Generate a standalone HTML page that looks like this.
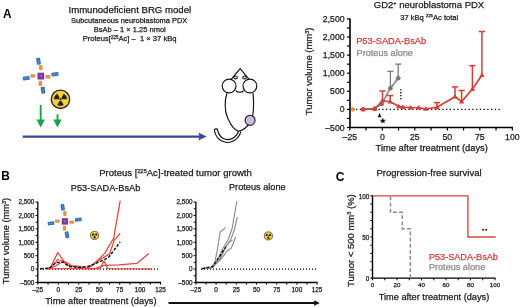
<!DOCTYPE html>
<html><head><meta charset="utf-8"><style>
html,body{margin:0;padding:0;background:#fff;}
body{width:520px;height:307px;overflow:hidden;}
svg{display:block;will-change:transform;}
text{font-family:"Liberation Sans",sans-serif;stroke-width:0.25px;}
</style></head><body>
<svg width="520" height="307" viewBox="0 0 520 307" font-family="Liberation Sans, sans-serif">
<rect width="520" height="307" fill="#fff"/>
<text transform="translate(2.9,17.5) scale(0.93,1)" font-size="12.8" font-weight="bold" fill="#000">A</text>
<text x="129.8" y="12.8" font-size="9.6" text-anchor="middle" fill="#1a1a1a" stroke="#1a1a1a" >Immunodeficient BRG model</text>
<text x="129.2" y="23.2" font-size="7.45" text-anchor="middle" fill="#1a1a1a" stroke="#1a1a1a" >Subcutaneous neuroblastoma PDX</text>
<text x="129.8" y="32.4" font-size="7.5" text-anchor="middle" fill="#1a1a1a" stroke="#1a1a1a" >BsAb – 1 × 1.25 nmol</text>
<text x="129.6" y="41.4" font-size="7.6" text-anchor="middle" fill="#1a1a1a" stroke="#1a1a1a" xml:space="preserve">Proteus[<tspan font-size="4.5" dy="-2.6">225</tspan><tspan dy="2.6">Ac] –  1 × 37 kBq</tspan></text>
<g transform="translate(40.8,76.1) rotate(0) scale(1.0)">
<rect x="-1.75" y="-11.00" width="3.5" height="5.2" rx="1.3" fill="#e5914a" transform="rotate(0 0 -8.4)"/>
<rect x="-10.50" y="-1.90" width="5.2" height="3.4" rx="1.3" fill="#e5914a" transform="rotate(0 -7.9 -0.2)"/>
<rect x="4.40" y="-1.00" width="5.4" height="3.4" rx="1.3" fill="#e5914a" transform="rotate(0 7.1 0.7)"/>
<rect x="-2.25" y="4.70" width="3.5" height="5.2" rx="1.3" fill="#e5914a" transform="rotate(0 -0.5 7.3)"/>
<g transform="rotate(-9 -2.3 -14.8)"><rect x="-4.30" y="-18.20" width="4.0" height="6.8" rx="0.9" fill="#3270b8"/>
<line x1="-2.3" y1="-17.60" x2="-2.3" y2="-12.00" stroke="#7fa6d6" stroke-width="0.55"/></g>
<g transform="rotate(-9 -14.6 2.1)"><rect x="-18.10" y="0.20" width="7.0" height="3.8" rx="0.9" fill="#3270b8"/>
<line x1="-17.50" y1="2.1" x2="-11.70" y2="2.1" stroke="#7fa6d6" stroke-width="0.55"/></g>
<g transform="rotate(-9 14.2 -1.8)"><rect x="10.60" y="-3.70" width="7.2" height="3.8" rx="0.9" fill="#3270b8"/>
<line x1="11.20" y1="-1.8" x2="17.20" y2="-1.8" stroke="#7fa6d6" stroke-width="0.55"/></g>
<g transform="rotate(-9 2.2 14.1)"><rect x="0.20" y="10.60" width="4.0" height="7.0" rx="0.9" fill="#3270b8"/>
<line x1="2.2" y1="11.20" x2="2.2" y2="17.00" stroke="#7fa6d6" stroke-width="0.55"/></g>
<rect x="-3.3" y="-3.4" width="6.6" height="6.8" fill="#74379a"/>
<path d="M-1.4,-1.6 L0.6,0.6 M1.5,-1.5 L-0.7,1.3" stroke="#b58ad0" stroke-width="0.6"/>
</g>
<g transform="translate(60.5,99.3)">
<circle r="9.2" fill="#f2d23c" stroke="#2a2416" stroke-width="1.38"/>
<path d="M-1.84,-0.00 L-6.44,-0.00 A6.4399999999999995,6.4399999999999995 0 0 1 -3.22,-5.58 L-0.92,-1.59 Z" fill="#2a2416"/>
<path d="M0.92,-1.59 L3.22,-5.58 A6.4399999999999995,6.4399999999999995 0 0 1 6.44,0.00 L1.84,0.00 Z" fill="#2a2416"/>
<path d="M0.92,1.59 L3.22,5.58 A6.4399999999999995,6.4399999999999995 0 0 1 -3.22,5.58 L-0.92,1.59 Z" fill="#2a2416"/>
<circle r="1.10" fill="#2a2416"/>
</g>
<line x1="40.7" y1="105" x2="40.7" y2="120.4" stroke="#20a04a" stroke-width="1.9"/>
<path d="M36.5,119.4 L44.900000000000006,119.4 L40.7,127.4 Z" fill="#20a04a"/>
<line x1="57.5" y1="114.3" x2="57.5" y2="120.4" stroke="#20a04a" stroke-width="1.9"/>
<path d="M53.3,119.4 L61.7,119.4 L57.5,127.4 Z" fill="#20a04a"/>
<line x1="22.8" y1="136.6" x2="200" y2="136.6" stroke="#34459a" stroke-width="2.4"/>
<path d="M198.3,132.6 L206.6,136.6 L198.3,140.6 L199.6,136.6 Z" fill="#34459a"/>
<g fill="none" stroke="#111" stroke-width="1.15">
<path d="M240.8,131.6 C238.5,140 230.5,143.2 225.5,142.3 C219.5,141.3 214.8,136 214.4,130 C214.3,128.7 217.4,128.5 217.6,129.9 C218.2,135.6 222.5,139.3 227.2,139.6 C232,139.9 236.8,136.5 238.6,131.3" fill="#fff"/>
<path d="M226.9,93.2 C224.6,100 224.3,111 227.7,118.1 C230.5,124.5 234.5,130.2 238.2,131.1 C242.5,131.2 248.5,126.5 251.5,120 C253.6,114 253.9,103 253.1,93.2" fill="#fff"/>
<circle cx="250.1" cy="120.3" r="5.0" fill="#c9bbdd" stroke="#2a2a2a"/>
<path d="M231.3,79.2 L240.1,68.6 L248.9,79.2" fill="#fff"/>
<circle cx="229.1" cy="86.0" r="6.9" fill="#fff"/>
<circle cx="249.9" cy="86.0" r="6.9" fill="#fff"/>
<path d="M235.6,90.6 C237.5,92.8 242,92.8 243.6,90.6"/>
<ellipse cx="235.6" cy="77.4" rx="1.75" ry="1.45" stroke-width="1.05"/>
<ellipse cx="244.5" cy="77.4" rx="1.75" ry="1.45" stroke-width="1.05"/>
</g>
<text x="429" y="8.2" font-size="9.5" text-anchor="middle" fill="#1a1a1a" stroke="#1a1a1a" >GD2<tspan font-size="5.5" dy="-3.3">+</tspan><tspan dy="3.3"> neuroblastoma PDX</tspan></text>
<text x="429.2" y="19.6" font-size="7.5" text-anchor="middle" fill="#1a1a1a" stroke="#1a1a1a" >37 kBq <tspan font-size="4.4" dy="-2.7">225</tspan><tspan dy="2.7">Ac total</tspan></text>
<line x1="350.00" y1="18.40" x2="350.00" y2="128.10" stroke="#000" stroke-width="1.6" />
<line x1="349.25" y1="127.50" x2="512.90" y2="127.50" stroke="#000" stroke-width="1.6" />
<line x1="347.00" y1="127.50" x2="350.00" y2="127.50" stroke="#000" stroke-width="1.2" />
<line x1="347.00" y1="118.45" x2="350.00" y2="118.45" stroke="#000" stroke-width="1.2" />
<line x1="347.00" y1="109.40" x2="350.00" y2="109.40" stroke="#000" stroke-width="1.2" />
<line x1="347.00" y1="100.35" x2="350.00" y2="100.35" stroke="#000" stroke-width="1.2" />
<line x1="347.00" y1="91.30" x2="350.00" y2="91.30" stroke="#000" stroke-width="1.2" />
<line x1="347.00" y1="82.25" x2="350.00" y2="82.25" stroke="#000" stroke-width="1.2" />
<line x1="347.00" y1="73.20" x2="350.00" y2="73.20" stroke="#000" stroke-width="1.2" />
<line x1="347.00" y1="64.15" x2="350.00" y2="64.15" stroke="#000" stroke-width="1.2" />
<line x1="347.00" y1="55.10" x2="350.00" y2="55.10" stroke="#000" stroke-width="1.2" />
<line x1="347.00" y1="46.05" x2="350.00" y2="46.05" stroke="#000" stroke-width="1.2" />
<line x1="347.00" y1="37.00" x2="350.00" y2="37.00" stroke="#000" stroke-width="1.2" />
<line x1="347.00" y1="27.95" x2="350.00" y2="27.95" stroke="#000" stroke-width="1.2" />
<line x1="347.00" y1="18.90" x2="350.00" y2="18.90" stroke="#000" stroke-width="1.2" />
<text x="344.6" y="21.89999999999999" font-size="8.7" text-anchor="end" fill="#1a1a1a" stroke="#1a1a1a" >2,500</text>
<text x="344.6" y="40.0" font-size="8.7" text-anchor="end" fill="#1a1a1a" stroke="#1a1a1a" >2,000</text>
<text x="344.6" y="58.1" font-size="8.7" text-anchor="end" fill="#1a1a1a" stroke="#1a1a1a" >1,500</text>
<text x="344.6" y="76.2" font-size="8.7" text-anchor="end" fill="#1a1a1a" stroke="#1a1a1a" >1,000</text>
<text x="344.6" y="94.30000000000001" font-size="8.7" text-anchor="end" fill="#1a1a1a" stroke="#1a1a1a" >500</text>
<text x="344.6" y="112.4" font-size="8.7" text-anchor="end" fill="#1a1a1a" stroke="#1a1a1a" >0</text>
<text x="344.6" y="130.5" font-size="8.7" text-anchor="end" fill="#1a1a1a" stroke="#1a1a1a" >–500</text>
<line x1="349.80" y1="127.50" x2="349.80" y2="130.50" stroke="#000" stroke-width="1.2" />
<line x1="366.05" y1="127.50" x2="366.05" y2="130.50" stroke="#000" stroke-width="1.2" />
<line x1="382.30" y1="127.50" x2="382.30" y2="130.50" stroke="#000" stroke-width="1.2" />
<line x1="398.55" y1="127.50" x2="398.55" y2="130.50" stroke="#000" stroke-width="1.2" />
<line x1="414.80" y1="127.50" x2="414.80" y2="130.50" stroke="#000" stroke-width="1.2" />
<line x1="431.05" y1="127.50" x2="431.05" y2="130.50" stroke="#000" stroke-width="1.2" />
<line x1="447.30" y1="127.50" x2="447.30" y2="130.50" stroke="#000" stroke-width="1.2" />
<line x1="463.55" y1="127.50" x2="463.55" y2="130.50" stroke="#000" stroke-width="1.2" />
<line x1="479.80" y1="127.50" x2="479.80" y2="130.50" stroke="#000" stroke-width="1.2" />
<line x1="496.05" y1="127.50" x2="496.05" y2="130.50" stroke="#000" stroke-width="1.2" />
<line x1="512.30" y1="127.50" x2="512.30" y2="130.50" stroke="#000" stroke-width="1.2" />
<text x="349.8" y="140.4" font-size="8.7" text-anchor="middle" fill="#1a1a1a" stroke="#1a1a1a" >–25</text>
<text x="382.3" y="140.4" font-size="8.7" text-anchor="middle" fill="#1a1a1a" stroke="#1a1a1a" >0</text>
<text x="414.8" y="140.4" font-size="8.7" text-anchor="middle" fill="#1a1a1a" stroke="#1a1a1a" >25</text>
<text x="447.3" y="140.4" font-size="8.7" text-anchor="middle" fill="#1a1a1a" stroke="#1a1a1a" >50</text>
<text x="479.8" y="140.4" font-size="8.7" text-anchor="middle" fill="#1a1a1a" stroke="#1a1a1a" >75</text>
<text x="512.3" y="140.4" font-size="8.7" text-anchor="middle" fill="#1a1a1a" stroke="#1a1a1a" >100</text>
<text x="431.7" y="151.2" font-size="9.35" text-anchor="middle" fill="#1a1a1a" stroke="#1a1a1a" >Time after treatment (days)</text>
<text transform="translate(312.0,71.4) rotate(-90)" font-size="9.45" text-anchor="middle" fill="#1a1a1a" stroke="#1a1a1a">Tumor volume (mm<tspan font-size="5.5" dy="-3.2">3</tspan><tspan dy="3.2">)</tspan></text>
<line x1="356" y1="109.40" x2="500" y2="109.40" stroke="#000" stroke-width="1.3" stroke-dasharray="1.3 2.45"/>
<text x="356.2" y="44.3" font-size="9.25" text-anchor="start" fill="#d03e3c" stroke="#d03e3c" >P53-SADA-BsAb</text>
<text x="356.6" y="55.5" font-size="9.15" text-anchor="start" fill="#8a8a8a" stroke="#8a8a8a" >Proteus alone</text>
<line x1="400.8" y1="89.2" x2="400.8" y2="100" stroke="#000" stroke-width="1.3" stroke-dasharray="1.3 1.6"/>
<circle cx="352.8" cy="109.4" r="2.2" fill="#f08a30"/>
<polyline points="363.20,109.20 374.80,108.60 381.70,104.00 390.40,88.20 398.20,78.20" fill="none" stroke="#7a7a7a" stroke-width="1.45" stroke-linejoin="round" />
<line x1="390.40" y1="88.20" x2="390.40" y2="71.30" stroke="#7a7a7a" stroke-width="1.3" />
<line x1="387.30" y1="71.30" x2="393.50" y2="71.30" stroke="#7a7a7a" stroke-width="1.3" />
<line x1="398.20" y1="78.20" x2="398.20" y2="64.10" stroke="#7a7a7a" stroke-width="1.3" />
<line x1="395.10" y1="64.10" x2="401.30" y2="64.10" stroke="#7a7a7a" stroke-width="1.3" />
<circle cx="363.2" cy="109.2" r="2.3" fill="#6f7a74"/>
<circle cx="374.8" cy="108.6" r="2.3" fill="#6f7a74"/>
<circle cx="381.7" cy="104.0" r="2.3" fill="#6f7a74"/>
<circle cx="390.4" cy="88.2" r="2.3" fill="#6f7a74"/>
<circle cx="398.2" cy="78.2" r="2.3" fill="#6f7a74"/>
<polyline points="363.20,109.40 374.80,108.80 382.50,100.50 390.20,101.70 398.70,106.30 402.80,107.00 410.60,107.50 418.50,107.70 425.90,108.80 437.00,107.30 455.00,96.70 461.60,101.60 472.40,89.00 481.90,75.20" fill="none" stroke="#dc3b32" stroke-width="1.65" stroke-linejoin="round" />
<line x1="382.50" y1="100.50" x2="382.50" y2="91.00" stroke="#dc3b32" stroke-width="1.5" />
<line x1="379.40" y1="91.00" x2="385.60" y2="91.00" stroke="#dc3b32" stroke-width="1.5" />
<line x1="390.20" y1="101.70" x2="390.20" y2="95.60" stroke="#dc3b32" stroke-width="1.5" />
<line x1="387.10" y1="95.60" x2="393.30" y2="95.60" stroke="#dc3b32" stroke-width="1.5" />
<line x1="437.00" y1="107.30" x2="437.00" y2="102.60" stroke="#dc3b32" stroke-width="1.5" />
<line x1="433.90" y1="102.60" x2="440.10" y2="102.60" stroke="#dc3b32" stroke-width="1.5" />
<line x1="455.00" y1="96.70" x2="455.00" y2="86.90" stroke="#dc3b32" stroke-width="1.5" />
<line x1="451.90" y1="86.90" x2="458.10" y2="86.90" stroke="#dc3b32" stroke-width="1.5" />
<line x1="461.60" y1="101.60" x2="461.60" y2="90.50" stroke="#dc3b32" stroke-width="1.5" />
<line x1="458.50" y1="90.50" x2="464.70" y2="90.50" stroke="#dc3b32" stroke-width="1.5" />
<line x1="472.40" y1="89.00" x2="472.40" y2="65.70" stroke="#dc3b32" stroke-width="1.5" />
<line x1="469.30" y1="65.70" x2="475.50" y2="65.70" stroke="#dc3b32" stroke-width="1.5" />
<line x1="481.90" y1="75.20" x2="481.90" y2="31.50" stroke="#dc3b32" stroke-width="1.5" />
<line x1="478.80" y1="31.50" x2="485.00" y2="31.50" stroke="#dc3b32" stroke-width="1.5" />
<path d="M360.50,111.30 L365.90,111.30 L363.20,106.80 Z" fill="#dc3b32"/>
<path d="M372.10,110.70 L377.50,110.70 L374.80,106.20 Z" fill="#dc3b32"/>
<path d="M379.80,102.40 L385.20,102.40 L382.50,97.90 Z" fill="#dc3b32"/>
<path d="M387.50,103.60 L392.90,103.60 L390.20,99.10 Z" fill="#dc3b32"/>
<path d="M396.00,108.20 L401.40,108.20 L398.70,103.70 Z" fill="#dc3b32"/>
<path d="M400.10,108.90 L405.50,108.90 L402.80,104.40 Z" fill="#dc3b32"/>
<path d="M407.90,109.40 L413.30,109.40 L410.60,104.90 Z" fill="#dc3b32"/>
<path d="M415.80,109.60 L421.20,109.60 L418.50,105.10 Z" fill="#dc3b32"/>
<path d="M423.20,110.70 L428.60,110.70 L425.90,106.20 Z" fill="#dc3b32"/>
<path d="M434.30,109.20 L439.70,109.20 L437.00,104.70 Z" fill="#dc3b32"/>
<path d="M452.30,98.60 L457.70,98.60 L455.00,94.10 Z" fill="#dc3b32"/>
<path d="M458.90,103.50 L464.30,103.50 L461.60,99.00 Z" fill="#dc3b32"/>
<path d="M469.70,90.90 L475.10,90.90 L472.40,86.40 Z" fill="#dc3b32"/>
<path d="M479.20,77.10 L484.60,77.10 L481.90,72.60 Z" fill="#dc3b32"/>
<path d="M377.7,117.2 L381.4,117.2 L379.6,112.7 Z" fill="#111"/>
<path d="M382.85,118.2 L383.55,120.0 L385.5,120.1 L384.0,121.3 L384.5,123.1 L382.85,122.1 L381.2,123.1 L381.7,121.3 L380.2,120.1 L382.15,120.0 Z" fill="#111" stroke="#111" stroke-width="0.4"/>
<text transform="translate(1.3,180.0) scale(0.93,1)" font-size="12.8" font-weight="bold" fill="#000">B</text>
<text x="175.5" y="176.1" font-size="9.55" text-anchor="middle" fill="#1a1a1a" stroke="#1a1a1a" >Proteus [<tspan font-size="5.6" dy="-3.3">225</tspan><tspan dy="3.3">Ac]-treated tumor growth</tspan></text>
<text x="105.6" y="191.0" font-size="9.2" text-anchor="middle" fill="#1a1a1a" stroke="#1a1a1a" >P53-SADA-BsAb</text>
<text x="257.3" y="190.4" font-size="9.2" text-anchor="middle" fill="#1a1a1a" stroke="#1a1a1a" >Proteus alone</text>
<line x1="37.80" y1="201.70" x2="37.80" y2="283.00" stroke="#000" stroke-width="1.3" />
<line x1="37.20" y1="282.50" x2="161.07" y2="282.50" stroke="#000" stroke-width="1.3" />
<line x1="35.60" y1="282.50" x2="37.80" y2="282.50" stroke="#000" stroke-width="1.0" />
<line x1="35.60" y1="275.80" x2="37.80" y2="275.80" stroke="#000" stroke-width="1.0" />
<line x1="35.60" y1="269.10" x2="37.80" y2="269.10" stroke="#000" stroke-width="1.0" />
<line x1="35.60" y1="262.40" x2="37.80" y2="262.40" stroke="#000" stroke-width="1.0" />
<line x1="35.60" y1="255.70" x2="37.80" y2="255.70" stroke="#000" stroke-width="1.0" />
<line x1="35.60" y1="249.00" x2="37.80" y2="249.00" stroke="#000" stroke-width="1.0" />
<line x1="35.60" y1="242.30" x2="37.80" y2="242.30" stroke="#000" stroke-width="1.0" />
<line x1="35.60" y1="235.60" x2="37.80" y2="235.60" stroke="#000" stroke-width="1.0" />
<line x1="35.60" y1="228.90" x2="37.80" y2="228.90" stroke="#000" stroke-width="1.0" />
<line x1="35.60" y1="222.20" x2="37.80" y2="222.20" stroke="#000" stroke-width="1.0" />
<line x1="35.60" y1="215.50" x2="37.80" y2="215.50" stroke="#000" stroke-width="1.0" />
<line x1="35.60" y1="208.80" x2="37.80" y2="208.80" stroke="#000" stroke-width="1.0" />
<line x1="35.60" y1="202.10" x2="37.80" y2="202.10" stroke="#000" stroke-width="1.0" />
<text x="34.4" y="204.40000000000003" font-size="6.4" text-anchor="end" fill="#1a1a1a" stroke="#1a1a1a" >2,500</text>
<text x="34.4" y="217.80000000000004" font-size="6.4" text-anchor="end" fill="#1a1a1a" stroke="#1a1a1a" >2,000</text>
<text x="34.4" y="231.20000000000005" font-size="6.4" text-anchor="end" fill="#1a1a1a" stroke="#1a1a1a" >1,500</text>
<text x="34.4" y="244.60000000000002" font-size="6.4" text-anchor="end" fill="#1a1a1a" stroke="#1a1a1a" >1,000</text>
<text x="34.4" y="258.0" font-size="6.4" text-anchor="end" fill="#1a1a1a" stroke="#1a1a1a" >500</text>
<text x="34.4" y="271.40000000000003" font-size="6.4" text-anchor="end" fill="#1a1a1a" stroke="#1a1a1a" >0</text>
<text x="34.4" y="284.8" font-size="6.4" text-anchor="end" fill="#1a1a1a" stroke="#1a1a1a" >–500</text>
<line x1="37.80" y1="282.50" x2="37.80" y2="284.70" stroke="#000" stroke-width="1.0" />
<line x1="48.03" y1="282.50" x2="48.03" y2="284.70" stroke="#000" stroke-width="1.0" />
<line x1="58.26" y1="282.50" x2="58.26" y2="284.70" stroke="#000" stroke-width="1.0" />
<line x1="68.49" y1="282.50" x2="68.49" y2="284.70" stroke="#000" stroke-width="1.0" />
<line x1="78.72" y1="282.50" x2="78.72" y2="284.70" stroke="#000" stroke-width="1.0" />
<line x1="88.96" y1="282.50" x2="88.96" y2="284.70" stroke="#000" stroke-width="1.0" />
<line x1="99.19" y1="282.50" x2="99.19" y2="284.70" stroke="#000" stroke-width="1.0" />
<line x1="109.42" y1="282.50" x2="109.42" y2="284.70" stroke="#000" stroke-width="1.0" />
<line x1="119.65" y1="282.50" x2="119.65" y2="284.70" stroke="#000" stroke-width="1.0" />
<line x1="129.88" y1="282.50" x2="129.88" y2="284.70" stroke="#000" stroke-width="1.0" />
<line x1="140.11" y1="282.50" x2="140.11" y2="284.70" stroke="#000" stroke-width="1.0" />
<line x1="150.34" y1="282.50" x2="150.34" y2="284.70" stroke="#000" stroke-width="1.0" />
<line x1="160.57" y1="282.50" x2="160.57" y2="284.70" stroke="#000" stroke-width="1.0" />
<text x="37.8" y="291.6" font-size="6.4" text-anchor="middle" fill="#1a1a1a" stroke="#1a1a1a" >–25</text>
<text x="58.262499999999996" y="291.6" font-size="6.4" text-anchor="middle" fill="#1a1a1a" stroke="#1a1a1a" >0</text>
<text x="78.725" y="291.6" font-size="6.4" text-anchor="middle" fill="#1a1a1a" stroke="#1a1a1a" >25</text>
<text x="99.1875" y="291.6" font-size="6.4" text-anchor="middle" fill="#1a1a1a" stroke="#1a1a1a" >50</text>
<text x="119.64999999999999" y="291.6" font-size="6.4" text-anchor="middle" fill="#1a1a1a" stroke="#1a1a1a" >75</text>
<text x="140.1125" y="291.6" font-size="6.4" text-anchor="middle" fill="#1a1a1a" stroke="#1a1a1a" >100</text>
<text x="160.575" y="291.6" font-size="6.4" text-anchor="middle" fill="#1a1a1a" stroke="#1a1a1a" >125</text>
<line x1="195.90" y1="201.70" x2="195.90" y2="283.00" stroke="#000" stroke-width="1.3" />
<line x1="195.30" y1="282.50" x2="317.60" y2="282.50" stroke="#000" stroke-width="1.3" />
<line x1="193.70" y1="282.50" x2="195.90" y2="282.50" stroke="#000" stroke-width="1.0" />
<line x1="193.70" y1="275.80" x2="195.90" y2="275.80" stroke="#000" stroke-width="1.0" />
<line x1="193.70" y1="269.10" x2="195.90" y2="269.10" stroke="#000" stroke-width="1.0" />
<line x1="193.70" y1="262.40" x2="195.90" y2="262.40" stroke="#000" stroke-width="1.0" />
<line x1="193.70" y1="255.70" x2="195.90" y2="255.70" stroke="#000" stroke-width="1.0" />
<line x1="193.70" y1="249.00" x2="195.90" y2="249.00" stroke="#000" stroke-width="1.0" />
<line x1="193.70" y1="242.30" x2="195.90" y2="242.30" stroke="#000" stroke-width="1.0" />
<line x1="193.70" y1="235.60" x2="195.90" y2="235.60" stroke="#000" stroke-width="1.0" />
<line x1="193.70" y1="228.90" x2="195.90" y2="228.90" stroke="#000" stroke-width="1.0" />
<line x1="193.70" y1="222.20" x2="195.90" y2="222.20" stroke="#000" stroke-width="1.0" />
<line x1="193.70" y1="215.50" x2="195.90" y2="215.50" stroke="#000" stroke-width="1.0" />
<line x1="193.70" y1="208.80" x2="195.90" y2="208.80" stroke="#000" stroke-width="1.0" />
<line x1="193.70" y1="202.10" x2="195.90" y2="202.10" stroke="#000" stroke-width="1.0" />
<text x="192.5" y="204.40000000000003" font-size="6.4" text-anchor="end" fill="#1a1a1a" stroke="#1a1a1a" >2,500</text>
<text x="192.5" y="217.80000000000004" font-size="6.4" text-anchor="end" fill="#1a1a1a" stroke="#1a1a1a" >2,000</text>
<text x="192.5" y="231.20000000000005" font-size="6.4" text-anchor="end" fill="#1a1a1a" stroke="#1a1a1a" >1,500</text>
<text x="192.5" y="244.60000000000002" font-size="6.4" text-anchor="end" fill="#1a1a1a" stroke="#1a1a1a" >1,000</text>
<text x="192.5" y="258.0" font-size="6.4" text-anchor="end" fill="#1a1a1a" stroke="#1a1a1a" >500</text>
<text x="192.5" y="271.40000000000003" font-size="6.4" text-anchor="end" fill="#1a1a1a" stroke="#1a1a1a" >0</text>
<text x="192.5" y="284.8" font-size="6.4" text-anchor="end" fill="#1a1a1a" stroke="#1a1a1a" >–500</text>
<line x1="195.90" y1="282.50" x2="195.90" y2="284.70" stroke="#000" stroke-width="1.0" />
<line x1="206.00" y1="282.50" x2="206.00" y2="284.70" stroke="#000" stroke-width="1.0" />
<line x1="216.10" y1="282.50" x2="216.10" y2="284.70" stroke="#000" stroke-width="1.0" />
<line x1="226.20" y1="282.50" x2="226.20" y2="284.70" stroke="#000" stroke-width="1.0" />
<line x1="236.30" y1="282.50" x2="236.30" y2="284.70" stroke="#000" stroke-width="1.0" />
<line x1="246.40" y1="282.50" x2="246.40" y2="284.70" stroke="#000" stroke-width="1.0" />
<line x1="256.50" y1="282.50" x2="256.50" y2="284.70" stroke="#000" stroke-width="1.0" />
<line x1="266.60" y1="282.50" x2="266.60" y2="284.70" stroke="#000" stroke-width="1.0" />
<line x1="276.70" y1="282.50" x2="276.70" y2="284.70" stroke="#000" stroke-width="1.0" />
<line x1="286.80" y1="282.50" x2="286.80" y2="284.70" stroke="#000" stroke-width="1.0" />
<line x1="296.90" y1="282.50" x2="296.90" y2="284.70" stroke="#000" stroke-width="1.0" />
<line x1="307.00" y1="282.50" x2="307.00" y2="284.70" stroke="#000" stroke-width="1.0" />
<line x1="317.10" y1="282.50" x2="317.10" y2="284.70" stroke="#000" stroke-width="1.0" />
<text x="195.9" y="291.6" font-size="6.4" text-anchor="middle" fill="#1a1a1a" stroke="#1a1a1a" >–25</text>
<text x="216.10000000000002" y="291.6" font-size="6.4" text-anchor="middle" fill="#1a1a1a" stroke="#1a1a1a" >0</text>
<text x="236.3" y="291.6" font-size="6.4" text-anchor="middle" fill="#1a1a1a" stroke="#1a1a1a" >25</text>
<text x="256.5" y="291.6" font-size="6.4" text-anchor="middle" fill="#1a1a1a" stroke="#1a1a1a" >50</text>
<text x="276.70000000000005" y="291.6" font-size="6.4" text-anchor="middle" fill="#1a1a1a" stroke="#1a1a1a" >75</text>
<text x="296.9" y="291.6" font-size="6.4" text-anchor="middle" fill="#1a1a1a" stroke="#1a1a1a" >100</text>
<text x="317.1" y="291.6" font-size="6.4" text-anchor="middle" fill="#1a1a1a" stroke="#1a1a1a" >125</text>
<text transform="translate(9.4,241.0) rotate(-90)" font-size="9.3" text-anchor="middle" fill="#1a1a1a" stroke="#1a1a1a">Tumor volume (mm<tspan font-size="5.5" dy="-3.2">3</tspan><tspan dy="3.2">)</tspan></text>
<text x="100.9" y="304.0" font-size="9.25" text-anchor="middle" fill="#1a1a1a" stroke="#1a1a1a" >Time after treatment (days)</text>
<line x1="168.5" y1="303" x2="316" y2="303" stroke="#111" stroke-width="1.8"/>
<path d="M314.2,300.3 L319.8,303 L314.2,305.7 Z" fill="#111"/>
<line x1="40" y1="269.1" x2="158" y2="269.1" stroke="#000" stroke-width="1.1" stroke-dasharray="1.1 1.9"/>
<line x1="201" y1="269.1" x2="317" y2="269.1" stroke="#000" stroke-width="1.1" stroke-dasharray="1.1 1.9"/>
<polyline points="46.00,268.80 50.00,268.50 57.80,252.50 66.30,264.60 72.00,266.50 80.00,267.00 87.00,268.50 96.00,262.00 104.50,253.60 113.70,238.00 120.20,200.70" fill="none" stroke="#e0463c" stroke-width="1.25" stroke-linejoin="round" />
<polyline points="46.00,268.80 52.00,267.00 57.50,259.50 63.00,261.00 68.00,265.50 78.00,266.00 88.00,268.20 98.00,261.00 109.80,253.60 114.20,240.00 120.20,233.60" fill="none" stroke="#e0463c" stroke-width="1.25" stroke-linejoin="round" />
<polyline points="46.00,268.80 55.00,266.50 60.00,263.00 66.00,262.00 72.00,266.00 85.00,268.50 95.00,268.50 104.50,265.40 118.90,264.80 137.10,263.30 148.80,253.60" fill="none" stroke="#e0463c" stroke-width="1.25" stroke-linejoin="round" />
<polyline points="46.00,268.90 70.00,268.50 100.00,268.70 104.00,261.00 108.00,268.70 152.20,268.90" fill="none" stroke="#e0463c" stroke-width="1.25" stroke-linejoin="round" />
<polyline points="40.30,268.80 49.50,268.00 56.00,262.50 63.00,262.00 69.00,266.50 80.00,267.50 90.00,266.00 103.20,260.10 108.50,257.50 120.20,241.90" fill="none" stroke="#111" stroke-width="1.4" stroke-linejoin="round" stroke-dasharray="3 1.6"/>
<polyline points="202.60,268.60 211.00,268.00 214.80,262.60 217.40,249.50 220.20,232.00 225.60,227.60" fill="none" stroke="#8d8d8d" stroke-width="1.15" stroke-linejoin="round" />
<polyline points="202.60,268.60 211.00,268.00 218.00,259.00 223.00,248.00 228.00,240.00 232.00,229.00 236.90,201.00" fill="none" stroke="#8d8d8d" stroke-width="1.15" stroke-linejoin="round" />
<polyline points="202.60,268.60 211.00,268.00 219.00,260.00 225.00,248.00 231.00,239.00 234.00,231.00 237.40,217.00" fill="none" stroke="#8d8d8d" stroke-width="1.15" stroke-linejoin="round" />
<polyline points="202.60,268.60 212.00,267.50 222.00,258.00 227.00,251.00 231.00,248.50 233.50,243.00 235.50,237.00" fill="none" stroke="#8d8d8d" stroke-width="1.15" stroke-linejoin="round" />
<polyline points="202.60,268.60 212.00,267.50 220.00,259.50 226.00,246.50 229.00,242.50 232.50,240.00" fill="none" stroke="#8d8d8d" stroke-width="1.15" stroke-linejoin="round" />
<polyline points="202.00,268.60 212.80,266.50 218.00,258.70 225.80,246.90" fill="none" stroke="#111" stroke-width="1.4" stroke-linejoin="round" stroke-dasharray="3 1.6"/>
<g transform="translate(64.9,221.4) rotate(0) scale(0.95)">
<rect x="-1.75" y="-11.00" width="3.5" height="5.2" rx="1.3" fill="#e5914a" transform="rotate(0 0 -8.4)"/>
<rect x="-10.50" y="-1.90" width="5.2" height="3.4" rx="1.3" fill="#e5914a" transform="rotate(0 -7.9 -0.2)"/>
<rect x="4.40" y="-1.00" width="5.4" height="3.4" rx="1.3" fill="#e5914a" transform="rotate(0 7.1 0.7)"/>
<rect x="-2.25" y="4.70" width="3.5" height="5.2" rx="1.3" fill="#e5914a" transform="rotate(0 -0.5 7.3)"/>
<g transform="rotate(-9 -2.3 -14.8)"><rect x="-4.30" y="-18.20" width="4.0" height="6.8" rx="0.9" fill="#3270b8"/>
<line x1="-2.3" y1="-17.60" x2="-2.3" y2="-12.00" stroke="#7fa6d6" stroke-width="0.55"/></g>
<g transform="rotate(-9 -14.6 2.1)"><rect x="-18.10" y="0.20" width="7.0" height="3.8" rx="0.9" fill="#3270b8"/>
<line x1="-17.50" y1="2.1" x2="-11.70" y2="2.1" stroke="#7fa6d6" stroke-width="0.55"/></g>
<g transform="rotate(-9 14.2 -1.8)"><rect x="10.60" y="-3.70" width="7.2" height="3.8" rx="0.9" fill="#3270b8"/>
<line x1="11.20" y1="-1.8" x2="17.20" y2="-1.8" stroke="#7fa6d6" stroke-width="0.55"/></g>
<g transform="rotate(-9 2.2 14.1)"><rect x="0.20" y="10.60" width="4.0" height="7.0" rx="0.9" fill="#3270b8"/>
<line x1="2.2" y1="11.20" x2="2.2" y2="17.00" stroke="#7fa6d6" stroke-width="0.55"/></g>
<rect x="-3.3" y="-3.4" width="6.6" height="6.8" fill="#74379a"/>
<path d="M-1.4,-1.6 L0.6,0.6 M1.5,-1.5 L-0.7,1.3" stroke="#b58ad0" stroke-width="0.6"/>
</g>
<g transform="translate(94.6,235.4)">
<circle r="4.1" fill="#f2d23c" stroke="#2a2416" stroke-width="0.61"/>
<path d="M-0.82,-0.00 L-2.87,-0.00 A2.8699999999999997,2.8699999999999997 0 0 1 -1.43,-2.49 L-0.41,-0.71 Z" fill="#2a2416"/>
<path d="M0.41,-0.71 L1.44,-2.49 A2.8699999999999997,2.8699999999999997 0 0 1 2.87,0.00 L0.82,0.00 Z" fill="#2a2416"/>
<path d="M0.41,0.71 L1.44,2.49 A2.8699999999999997,2.8699999999999997 0 0 1 -1.43,2.49 L-0.41,0.71 Z" fill="#2a2416"/>
<circle r="0.49" fill="#2a2416"/>
</g>
<g transform="translate(268.4,235.9)">
<circle r="4.1" fill="#f2d23c" stroke="#2a2416" stroke-width="0.61"/>
<path d="M-0.82,-0.00 L-2.87,-0.00 A2.8699999999999997,2.8699999999999997 0 0 1 -1.43,-2.49 L-0.41,-0.71 Z" fill="#2a2416"/>
<path d="M0.41,-0.71 L1.44,-2.49 A2.8699999999999997,2.8699999999999997 0 0 1 2.87,0.00 L0.82,0.00 Z" fill="#2a2416"/>
<path d="M0.41,0.71 L1.44,2.49 A2.8699999999999997,2.8699999999999997 0 0 1 -1.43,2.49 L-0.41,0.71 Z" fill="#2a2416"/>
<circle r="0.49" fill="#2a2416"/>
</g>
<text transform="translate(335.8,180.6) scale(0.95,1)" font-size="12.8" font-weight="bold" fill="#000">C</text>
<text x="429" y="176.1" font-size="9.5" text-anchor="middle" fill="#1a1a1a" stroke="#1a1a1a" >Progression-free survival</text>
<line x1="372.50" y1="195.36" x2="372.50" y2="278.60" stroke="#000" stroke-width="1.4" />
<line x1="371.80" y1="278.10" x2="495.60" y2="278.10" stroke="#000" stroke-width="1.4" />
<line x1="370.30" y1="278.10" x2="372.50" y2="278.10" stroke="#000" stroke-width="1.0" />
<line x1="370.30" y1="269.88" x2="372.50" y2="269.88" stroke="#000" stroke-width="1.0" />
<line x1="370.30" y1="261.65" x2="372.50" y2="261.65" stroke="#000" stroke-width="1.0" />
<line x1="370.30" y1="253.43" x2="372.50" y2="253.43" stroke="#000" stroke-width="1.0" />
<line x1="370.30" y1="245.20" x2="372.50" y2="245.20" stroke="#000" stroke-width="1.0" />
<line x1="370.30" y1="236.98" x2="372.50" y2="236.98" stroke="#000" stroke-width="1.0" />
<line x1="370.30" y1="228.76" x2="372.50" y2="228.76" stroke="#000" stroke-width="1.0" />
<line x1="370.30" y1="220.53" x2="372.50" y2="220.53" stroke="#000" stroke-width="1.0" />
<line x1="370.30" y1="212.31" x2="372.50" y2="212.31" stroke="#000" stroke-width="1.0" />
<line x1="370.30" y1="204.08" x2="372.50" y2="204.08" stroke="#000" stroke-width="1.0" />
<line x1="370.30" y1="195.86" x2="372.50" y2="195.86" stroke="#000" stroke-width="1.0" />
<text x="369.3" y="281.0" font-size="6.4" text-anchor="end" fill="#1a1a1a" stroke="#1a1a1a" >0</text>
<text x="369.3" y="239.88000000000002" font-size="6.4" text-anchor="end" fill="#1a1a1a" stroke="#1a1a1a" >50</text>
<text x="369.3" y="198.76000000000002" font-size="6.4" text-anchor="end" fill="#1a1a1a" stroke="#1a1a1a" >100</text>
<line x1="372.50" y1="278.10" x2="372.50" y2="280.30" stroke="#000" stroke-width="1.0" />
<line x1="384.75" y1="278.10" x2="384.75" y2="280.30" stroke="#000" stroke-width="1.0" />
<line x1="397.00" y1="278.10" x2="397.00" y2="280.30" stroke="#000" stroke-width="1.0" />
<line x1="409.25" y1="278.10" x2="409.25" y2="280.30" stroke="#000" stroke-width="1.0" />
<line x1="421.50" y1="278.10" x2="421.50" y2="280.30" stroke="#000" stroke-width="1.0" />
<line x1="433.75" y1="278.10" x2="433.75" y2="280.30" stroke="#000" stroke-width="1.0" />
<line x1="446.00" y1="278.10" x2="446.00" y2="280.30" stroke="#000" stroke-width="1.0" />
<line x1="458.25" y1="278.10" x2="458.25" y2="280.30" stroke="#000" stroke-width="1.0" />
<line x1="470.50" y1="278.10" x2="470.50" y2="280.30" stroke="#000" stroke-width="1.0" />
<line x1="482.75" y1="278.10" x2="482.75" y2="280.30" stroke="#000" stroke-width="1.0" />
<line x1="495.00" y1="278.10" x2="495.00" y2="280.30" stroke="#000" stroke-width="1.0" />
<text x="372.5" y="287.0" font-size="6.2" text-anchor="middle" fill="#1a1a1a" stroke="#1a1a1a" >0</text>
<text x="397.0" y="287.0" font-size="6.2" text-anchor="middle" fill="#1a1a1a" stroke="#1a1a1a" >20</text>
<text x="421.5" y="287.0" font-size="6.2" text-anchor="middle" fill="#1a1a1a" stroke="#1a1a1a" >40</text>
<text x="446.0" y="287.0" font-size="6.2" text-anchor="middle" fill="#1a1a1a" stroke="#1a1a1a" >60</text>
<text x="470.5" y="287.0" font-size="6.2" text-anchor="middle" fill="#1a1a1a" stroke="#1a1a1a" >80</text>
<text x="495.0" y="287.0" font-size="6.2" text-anchor="middle" fill="#1a1a1a" stroke="#1a1a1a" >100</text>
<text x="434.0" y="299.6" font-size="9.2" text-anchor="middle" fill="#1a1a1a" stroke="#1a1a1a" >Time after treatment (days)</text>
<text transform="translate(354.3,240.6) rotate(-90)" font-size="9.5" text-anchor="middle" fill="#1a1a1a" stroke="#1a1a1a">Tumor &lt; 500 mm<tspan font-size="5.5" dy="-3.2">3</tspan><tspan dy="3.2"> (%)</tspan></text>
<path d="M390.5075,196.56 L390.5075,212.30800000000002 L402.2675,212.30800000000002 L402.2675,228.75600000000003 L410.3525,228.75600000000003 L410.3525,278.1" fill="none" stroke="#8a8a8a" stroke-width="1.45" stroke-dasharray="3.8 2.3"/>
<path d="M372.5,195.86 L467.9275,195.86 L467.9275,236.98000000000002 L495.6125,236.98000000000002" fill="none" stroke="#d34a3f" stroke-width="1.35"/>
<circle cx="483.1" cy="229.8" r="1.05" fill="#222"/><circle cx="486.2" cy="229.8" r="1.05" fill="#222"/>
<text x="428.9" y="259.5" font-size="9.15" text-anchor="start" fill="#d03e3c" stroke="#d03e3c" >P53-SADA-BsAb</text>
<text x="428.9" y="270.3" font-size="9.15" text-anchor="start" fill="#8a8a8a" stroke="#8a8a8a" >Proteus alone</text>
</svg>
</body></html>
